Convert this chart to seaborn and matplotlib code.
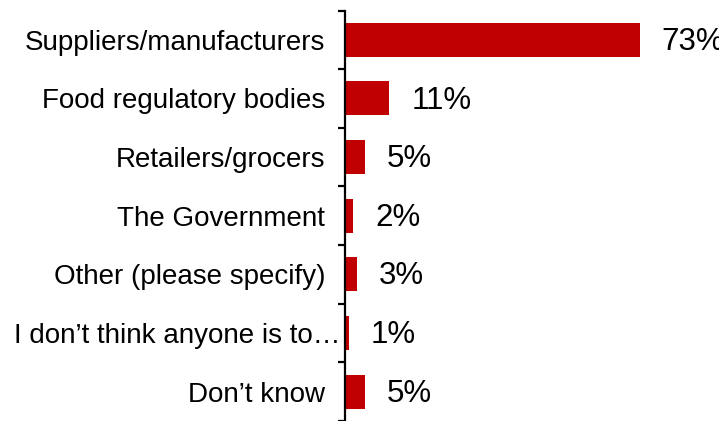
import matplotlib
matplotlib.use("Agg")
import matplotlib.pyplot as plt
import matplotlib.transforms as mtransforms
import seaborn as sns
import pandas as pd

categories = [
    "Suppliers/manufacturers",
    "Food regulatory bodies",
    "Retailers/grocers",
    "The Government",
    "Other (please specify)",
    "I don\u2019t think anyone is to\u2026",
    "Don\u2019t know",
]
values = [73, 11, 5, 2, 3, 1, 5]
value_labels = ["73%", "11%", "5%", "2%", "3%", "1%", "5%"]

sns.set_style("white")
plt.rcParams["font.family"] = ["Liberation Sans", "DejaVu Sans"]

df = pd.DataFrame({"cat": categories, "val": values})

fig = plt.figure(figsize=(7.19, 4.21), dpi=100)
ax = fig.add_axes([345 / 719, 0.0, 1 - 345 / 719, (421 - 10.5) / 421])

sns.barplot(data=df, x="val", y="cat", orient="h", color="#C00000",
            width=0.58, saturation=1, ax=ax, edgecolor="none")

ax.set_xlim(0, (719 - 345) / 4.04)
ax.set_ylim(6.5, -0.5)
ax.set_xlabel("")
ax.set_ylabel("")
ax.set_xticks([])

for s in ["top", "right", "bottom"]:
    ax.spines[s].set_visible(False)
ax.spines["left"].set_color("black")
ax.spines["left"].set_linewidth(1.6)

ax.tick_params(axis="y", which="major", left=False, length=0, pad=14.4,
               labelsize=20, colors="black")
ax.set_yticks([i - 0.5 for i in range(len(categories) + 1)], minor=True)
ax.tick_params(axis="y", which="minor", left=True, length=5, width=1.6,
               color="black", direction="out")

# the truncated label runs up to the axis in the reference
for t in ax.get_yticklabels():
    if t.get_text().startswith("I don"):
        t.set_transform(t.get_transform() +
                        mtransforms.ScaledTranslation(16 / 100, 0, fig.dpi_scale_trans))

for i, (v, lab) in enumerate(zip(values, value_labels)):
    ax.annotate(lab, xy=(v, i), xytext=(15.8, -1.5), textcoords="offset points",
                va="center", ha="left", fontsize=22.5, color="black",
                annotation_clip=False)

fig.savefig("out.png", dpi=100)
